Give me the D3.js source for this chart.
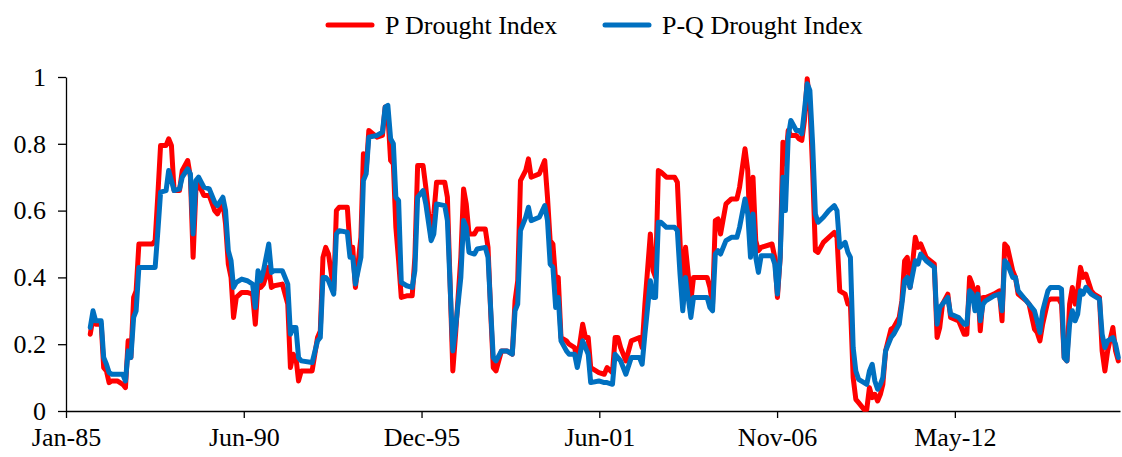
<!DOCTYPE html>
<html>
<head>
<meta charset="utf-8">
<script src="https://cdn.jsdelivr.net/npm/d3@7.9.0/dist/d3.min.js"></script>
<style>
  body { margin: 0; background: #fff; }
  text { font-family: "Liberation Serif", "Times New Roman", serif; fill: #000; }
</style>
</head>
<body>
<svg id="chart" width="1122" height="457"></svg>
<script>
// vertices (month, P index, P-Q index)
const dates = [
  "1985-10","1985-11","1985-12","1986-02","1986-03","1986-04","1986-05","1986-06","1986-08","1986-10",
  "1986-11","1986-12","1987-01","1987-02","1987-03","1987-04","1987-09","1987-10","1987-11","1987-12",
  "1988-02","1988-03","1988-04","1988-05","1988-07","1988-08","1988-10","1988-11","1988-12","1989-01",
  "1989-02","1989-04","1989-06","1989-08","1989-09","1989-11","1989-12","1990-01","1990-02","1990-03",
  "1990-04","1990-06","1990-08","1990-10","1990-11","1990-12","1991-01","1991-02","1991-04","1991-05",
  "1991-06","1991-09","1991-11","1991-12","1992-01","1992-02","1992-03","1992-04","1992-08","1992-10",
  "1992-11","1992-12","1993-01","1993-02","1993-04","1993-05","1993-06","1993-09","1993-10","1993-11",
  "1993-12","1994-02","1994-03","1994-04","1994-05","1994-08","1994-10","1994-11","1994-12","1995-01",
  "1995-02","1995-03","1995-04","1995-05","1995-07","1995-09","1995-10","1995-11","1996-01","1996-02",
  "1996-04","1996-05","1996-06","1996-09","1996-10","1996-12","1997-01","1997-03","1997-04","1997-05",
  "1997-06","1997-08","1997-09","1997-12","1998-01","1998-02","1998-03","1998-04","1998-06","1998-08",
  "1998-10","1998-11","1998-12","1999-01","1999-03","1999-04","1999-05","1999-08","1999-10","1999-11",
  "1999-12","2000-01","2000-02","2000-03","2000-04","2000-06","2000-07","2000-09","2000-10","2000-12",
  "2001-01","2001-02","2001-03","2001-06","2001-08","2001-09","2001-11","2001-12","2002-01","2002-02",
  "2002-04","2002-06","2002-09","2002-10","2002-11","2003-01","2003-02","2003-03","2003-04","2003-05",
  "2003-07","2003-10","2003-11","2003-12","2004-01","2004-02","2004-04","2004-05","2004-10","2004-11",
  "2004-12","2005-01","2005-02","2005-03","2005-05","2005-07","2005-09","2005-10","2005-12","2006-01",
  "2006-02","2006-03","2006-04","2006-05","2006-06","2006-10","2006-11","2006-12","2007-01","2007-02",
  "2007-03","2007-04","2007-05","2007-07","2007-08","2007-09","2007-10","2007-11","2007-12","2008-01",
  "2008-02","2008-03","2008-05","2008-07","2008-09","2008-10","2008-11","2009-01","2009-02","2009-03",
  "2009-04","2009-05","2009-06","2009-08","2009-09","2009-10","2009-11","2009-12","2010-01","2010-02",
  "2010-03","2010-04","2010-06","2010-07","2010-09","2010-10","2010-11","2010-12","2011-01","2011-03",
  "2011-04","2011-05","2011-07","2011-10","2011-11","2011-12","2012-01","2012-03","2012-04","2012-07",
  "2012-09","2012-10","2012-11","2012-12","2013-01","2013-02","2013-03","2013-04","2013-05","2013-08",
  "2013-10","2013-11","2013-12","2014-01","2014-03","2014-04","2014-05","2014-08","2014-09","2014-11",
  "2014-12","2015-01","2015-02","2015-04","2015-05","2015-08","2015-09","2015-10","2015-11","2015-12",
  "2016-01","2016-02","2016-03","2016-04","2016-05","2016-06","2016-08","2016-09","2016-11","2016-12",
  "2017-01","2017-02","2017-04","2017-05","2017-06"
];

const pIndex = [
  .23,.28,.26,.26,.13,.12,.085,.09,.09,.08,
  .07,.21,.16,.34,.36,.50,.50,.51,.65,.795,
  .795,.815,.795,.66,.66,.72,.75,.70,.46,.66,
  .68,.645,.645,.60,.59,.625,.56,.44,.40,.28,
  .34,.355,.355,.35,.26,.38,.37,.38,.43,.37,
  .375,.38,.32,.13,.17,.16,.09,.12,.12,.22,
  .24,.46,.49,.47,.36,.60,.61,.61,.49,.49,
  .37,.52,.77,.72,.84,.82,.825,.91,.89,.75,
  .74,.55,.45,.34,.345,.345,.46,.735,.735,.67,
  .52,.59,.685,.685,.64,.12,.23,.46,.665,.62,
  .53,.53,.545,.545,.49,.29,.13,.12,.18,.18,
  .17,.33,.39,.69,.72,.755,.70,.71,.75,.64,
  .51,.50,.39,.40,.22,.21,.20,.19,.15,.26,
  .22,.22,.13,.115,.11,.13,.115,.22,.22,.19,
  .15,.21,.22,.19,.32,.53,.42,.40,.72,.715,
  .70,.70,.685,.51,.32,.49,.33,.40,.40,.37,
  .32,.57,.575,.53,.62,.635,.635,.67,.785,.72,
  .49,.70,.51,.48,.49,.50,.46,.34,.46,.805,
  .74,.84,.825,.825,.815,.81,.87,.995,.92,.72,
  .48,.475,.505,.52,.535,.52,.36,.35,.32,.32,
  .10,.035,.025,.005,.005,.07,.04,.05,.03,.05,
  .08,.18,.245,.25,.28,.33,.45,.46,.37,.52,
  .49,.50,.46,.44,.22,.25,.32,.35,.28,.27,
  .23,.23,.40,.38,.32,.37,.24,.34,.34,.35,
  .36,.27,.50,.49,.42,.40,.35,.33,.32,.245,
  .235,.21,.26,.33,.335,.335,.32,.16,.15,.32,
  .37,.32,.36,.43,.40,.41,.36,.35,.34,.18,
  .12,.18,.25,.18,.15
];

const pqIndex = [
  .25,.30,.27,.27,.16,.14,.115,.11,.11,.11,
  .09,.18,.16,.28,.30,.43,.43,.43,.54,.655,
  .66,.72,.69,.66,.665,.70,.725,.71,.53,.69,
  .70,.67,.665,.625,.615,.64,.60,.48,.45,.37,
  .385,.395,.39,.38,.31,.42,.39,.42,.50,.415,
  .42,.42,.38,.23,.25,.25,.16,.15,.145,.21,
  .22,.40,.40,.39,.35,.53,.54,.535,.46,.46,
  .38,.46,.69,.71,.82,.825,.835,.91,.915,.815,
  .80,.64,.63,.385,.375,.37,.42,.64,.66,.62,
  .51,.53,.62,.615,.57,.18,.25,.40,.57,.55,
  .475,.47,.485,.49,.46,.30,.16,.15,.18,.18,
  .17,.30,.32,.54,.58,.61,.57,.58,.615,.57,
  .44,.43,.31,.34,.21,.18,.17,.17,.13,.21,
  .19,.17,.085,.09,.085,.085,.08,.17,.16,.15,
  .11,.16,.16,.14,.23,.39,.34,.34,.565,.565,
  .55,.55,.54,.41,.30,.40,.28,.34,.34,.31,
  .30,.47,.48,.47,.51,.52,.52,.55,.635,.59,
  .46,.59,.46,.415,.465,.465,.44,.35,.46,.70,
  .60,.82,.87,.84,.84,.83,.90,.98,.96,.80,
  .59,.565,.58,.60,.615,.60,.49,.505,.475,.46,
  .19,.12,.095,.085,.08,.12,.14,.09,.065,.08,
  .10,.18,.22,.23,.26,.32,.39,.40,.37,.45,
  .44,.47,.45,.43,.26,.31,.32,.34,.29,.28,
  .26,.26,.36,.35,.30,.35,.27,.32,.33,.345,
  .35,.30,.45,.44,.40,.40,.36,.33,.32,.30,
  .27,.235,.30,.36,.37,.37,.365,.16,.15,.26,
  .30,.27,.29,.36,.35,.37,.35,.345,.335,.23,
  .19,.21,.22,.20,.16
];

const seriesNames = ['P Drought Index', 'P-Q Drought Index'];
const seriesColors = ['#ff0000', '#0070c0'];
const xTickLabels = ['Jan-85', 'Jun-90', 'Dec-95', 'Jun-01', 'Nov-06', 'May-12'];
const yTicks = [0, 0.2, 0.4, 0.6, 0.8, 1];

let parseMonth = d3.utcParse('%Y-%m');
let start = new Date(Date.UTC(1985, 0, 1));
let end = new Date(Date.UTC(2017, 5, 20));

let x = d3.scaleUtc().domain([start, end]).range([66, 1120]);
let y = d3.scaleLinear().domain([0, 1]).range([411, 77]);

let svg = d3.select('#chart');

// excel-style date axis: one major tick every 2000 days
let xTickValues = xTickLabels.map((_, i) => d3.utcDay.offset(start, 2000 * i));

let xAxis = svg.append('g')
  .attr('transform', 'translate(0,411)')
  .call(d3.axisBottom(x)
    .tickValues(xTickValues)
    .tickFormat((d, i) => xTickLabels[i])
    .tickSize(7)
    .tickSizeOuter(0)
    .tickPadding(10));

let yAxis = svg.append('g')
  .attr('transform', 'translate(66,0)')
  .call(d3.axisLeft(y)
    .tickValues(yTicks)
    .tickFormat((d) => String(d))
    .tickSize(8)
    .tickSizeOuter(0)
    .tickPadding(12));

[xAxis, yAxis].forEach((g) => {
  g.selectAll('path, line').attr('stroke', '#000').attr('stroke-width', 1.3);
  g.selectAll('text').style('font-size', '26px').attr('fill', '#000');
});

let line = d3.line()
  .x((d) => x(d.date))
  .y((d) => y(d.value));

[pIndex, pqIndex].forEach((vals, i) => {
  let pts = dates.map((m, k) => ({ date: parseMonth(m), value: vals[k] }));
  svg.append('path')
    .datum(pts)
    .attr('d', line)
    .attr('fill', 'none')
    .attr('stroke', seriesColors[i])
    .attr('stroke-width', 5)
    .attr('stroke-linejoin', 'round')
    .attr('stroke-linecap', 'round');
});

// legend
let legendX = [328, 605];
seriesNames.forEach((name, i) => {
  let g = svg.append('g').attr('transform', `translate(${legendX[i]},25)`);
  g.append('line')
    .attr('x1', 0).attr('x2', 44)
    .attr('stroke', seriesColors[i])
    .attr('stroke-width', 5)
    .attr('stroke-linecap', 'round');
  g.append('text')
    .attr('x', 57)
    .attr('dy', '0.35em')
    .style('font-size', '26px')
    .text(name);
});
</script>
</body>
</html>
